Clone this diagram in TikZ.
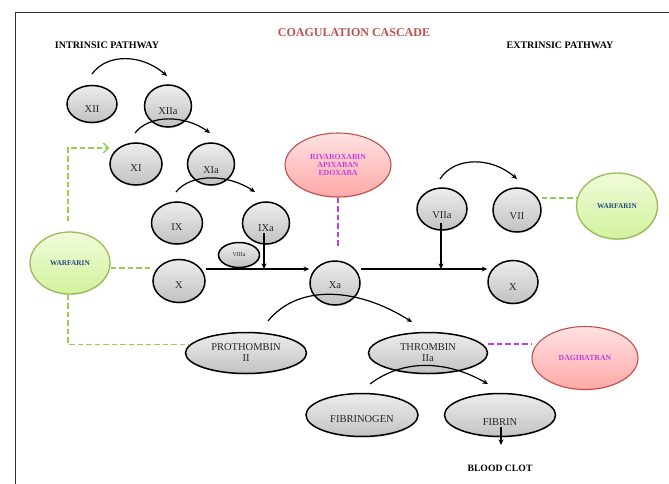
\documentclass[tikz,border=0pt]{standalone}
\usepackage{fontspec}
\setmainfont{Liberation Serif}
\usetikzlibrary{arrows.meta,shadows,calc,shapes.geometric}
\definecolor{ellTop}{HTML}{EDEDED}
\definecolor{ellBot}{HTML}{C2C2C2}
\definecolor{pinkTop}{HTML}{FFE2E2}
\definecolor{pinkBot}{HTML}{FFA8A8}
\definecolor{pinkLine}{HTML}{C0504D}
\definecolor{grnTop}{HTML}{F0FBDA}
\definecolor{grnBot}{HTML}{D2F39C}
\definecolor{grnLine}{HTML}{9BBB59}
\definecolor{grnDash}{HTML}{92D050}
\definecolor{titleRed}{HTML}{C0504D}
\definecolor{warfBlue}{HTML}{1F497D}
\definecolor{drugPurple}{HTML}{C03FE0}
\tikzset{
  factor/.style={ellipse, draw=black, line width=1.5pt, top color=ellTop, bottom color=ellBot,
    inner sep=0pt, font=\fontsize{10.5}{11}\selectfont, text=black!85, align=center,
    drop shadow={shadow xshift=0.4pt, shadow yshift=-1.2pt, opacity=0.25}},
  esize/.style 2 args={minimum width=#1, minimum height=#2},
  tdown/.style={text height=#1, text depth=0pt},
  drugpink/.style={ellipse, draw=pinkLine, line width=1.1pt, top color=pinkTop, bottom color=pinkBot,
    inner sep=0pt, align=center, text=drugPurple, font=\bfseries\fontsize{7.8}{8.3}\selectfont,
    drop shadow={shadow xshift=0.4pt, shadow yshift=-1.2pt, opacity=0.2}},
  druggreen/.style={ellipse, draw=grnLine, line width=1.3pt, top color=grnTop, bottom color=grnBot,
    inner sep=0pt, align=center, text=warfBlue, font=\bfseries\fontsize{7.3}{8}\selectfont,
    drop shadow={shadow xshift=0.4pt, shadow yshift=-1.2pt, opacity=0.2}},
  heading/.style={font=\bfseries\fontsize{10}{11}\selectfont, text=black},
  arr/.style={-{Stealth[length=5.5pt,width=5pt]}, line width=1.2pt, black},
  gdash/.style={draw=grnDash, line width=1.3pt, dash pattern=on 5.5pt off 3pt},
  pdash/.style={draw=drugPurple, line width=1.3pt, dash pattern=on 5.5pt off 3pt},
}
\begin{document}
\begin{tikzpicture}[x=1pt,y=-1pt]
\useasboundingbox (0,0) rectangle (669,484);
% frame
\draw[line width=0.9pt, black!80] (15.5,484) -- (15.5,12) -- (669,12);

% headings
\node[font=\bfseries\fontsize{12}{13}\selectfont, text=titleRed] (title) at (354,33) {COAGULATION CASCADE};
\node[heading] (intr) at (107,45) {INTRINSIC PATHWAY};
\node[heading] (extr) at (560,45) {EXTRINSIC PATHWAY};
\node[font=\bfseries\fontsize{9.7}{11}\selectfont] (blood) at (500,468) {BLOOD CLOT};

% factor ellipses
\node[factor, esize={50pt}{37pt}, tdown=17pt] (XII) at (92,104) {XII};
\node[factor, esize={47pt}{42pt}, tdown=17pt] (XIIa) at (168,106) {XIIa};
\node[factor, esize={52pt}{42pt}, tdown=15pt] (XI) at (136,164) {XI};
\node[factor, esize={47pt}{42pt}, tdown=18pt] (XIa) at (211,164) {XIa};
\node[factor, esize={51pt}{42pt}, tdown=15pt] (IX) at (177,223) {IX};
\node[factor, esize={47pt}{42pt}, tdown=17pt] (IXa) at (266,223) {IXa};
\node[factor, esize={41pt}{25pt}, font=\fontsize{6}{7}\selectfont] (VIIIa) at (239,255) {VIIIa};
\node[factor, esize={52pt}{43pt}, tdown=15pt] (X) at (179,281) {X};
\node[factor, esize={50pt}{44pt}, tdown=11pt] (Xa) at (335,283) {Xa};
\node[factor, esize={50pt}{42pt}, tdown=19pt] (VIIa) at (442,209) {VIIa};
\node[factor, esize={48pt}{44pt}, tdown=19pt] (VII) at (517,210) {VII};
\node[factor, esize={50pt}{43pt}, tdown=17pt] (Xr) at (513,282) {X};
\node[factor, esize={121pt}{41pt}] (PRO) at (246,353) {PROTHOMBIN\\II};
\node[factor, esize={119pt}{41pt}] (THR) at (428,353) {THROMBIN\\IIa};
\node[factor, esize={112pt}{43pt}, tdown=15pt] (FBG) at (362,415) {FIBRINOGEN};
\node[factor, esize={111pt}{43pt}, tdown=21pt] (FIB) at (500,415) {FIBRIN};

% drug ellipses
\node[drugpink, esize={106pt}{64pt}] (RIV) at (338,165) {RIVAROXABIN\\APIXABAN\\EDOXABA};
\node[drugpink, esize={106pt}{63pt}] (DAG) at (585,358) {DAGIBATRAN};
\node[druggreen, esize={80pt}{62pt}] (W1) at (70,263) {WARFARIN};
\node[druggreen, esize={81pt}{66pt}] (W2) at (617,206) {WARFARIN};

% helper coordinates
\coordinate (rowL) at (0,269);
\coordinate (gy) at (0,198);
\coordinate (py) at (0,344);

% activation arcs
\coordinate (a1s) at (92,74);   \coordinate (a1e) at (167,76);
\coordinate (a2s) at (135,133); \coordinate (a2e) at (210,133);
\coordinate (a3s) at (176,192); \coordinate (a3e) at (255,192);
\coordinate (a4s) at (440,179); \coordinate (a4e) at (517,179);
\coordinate (a5s) at (268,321); \coordinate (a5e) at (412,322);
\coordinate (a6s) at (370,384); \coordinate (a6e) at (488,384);
\draw[arr] (a1s) .. controls +(15,-21) and +(-25,-22) .. (a1e);
\draw[arr] (a2s) .. controls +(15,-19) and +(-25,-18) .. (a2e);
\draw[arr] (a3s) .. controls +(15,-19) and +(-27,-18) .. (a3e);
\draw[arr] (a4s) .. controls +(15,-23) and +(-25,-22) .. (a4e);
\draw[arr] (a5s) .. controls +(30,-37) and +(-55,-35) .. (a5e);
\draw[arr] (a6s) .. controls +(33,-25) and +(-42,-24) .. (a6e);

% straight arrows
\draw[arr] (X.east |- rowL) -- (Xa.west |- rowL);
\draw[arr] (Xa.east |- rowL) -- (Xr.west |- rowL);
\coordinate (ixs) at ($(IXa.center)+(-2,10)$);
\draw[arr] (ixs) -- (ixs |- rowL);
\coordinate (viis) at ($(VIIa.center)+(-1,14)$);
\draw[arr] (viis) -- (viis |- rowL);
\coordinate (fibs) at ($(FIB.center)+(1,12)$);
\coordinate (fibe) at ($(FIB.center)+(1,30)$);
\draw[arr] (fibs) -- (fibe);

% warfarin (green dashed)
\coordinate (w1top) at ($(W1.north)+(-2,-10)$);
\coordinate (xiin) at ($(XI.west)+(0,-16)$);
\draw[gdash, -{Straight Barb[length=5pt,width=10pt,line width=1.3pt]}] (w1top) |- (xiin);
\coordinate (w1r) at ($(W1.east)+(0,5)$);
\draw[gdash] (w1r) -- (X.west |- w1r);
\coordinate (w1b) at ($(W1.south)+(-2,0)$);
\draw[gdash] (w1b) |- (PRO.171);
\draw[gdash] (VII.east |- gy) -- (W2.west |- gy);

% direct inhibitors (purple dashed)
\coordinate (rivend) at ($(Xa.north)+(2,-13)$);
\draw[pdash] (RIV.south) -- (RIV.south |- rivend);
\draw[pdash] (THR.east |- py) -- (DAG.west |- py);
\end{tikzpicture}
\end{document}
